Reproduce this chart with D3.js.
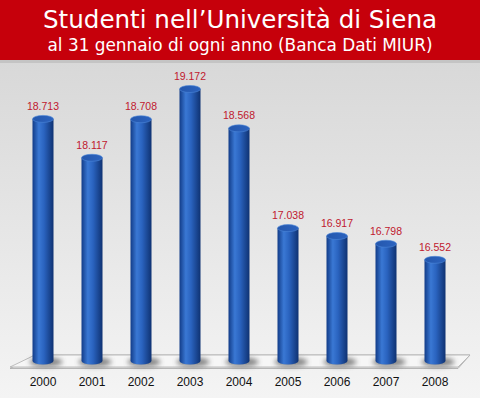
<!DOCTYPE html>
<html>
<head>
<meta charset="utf-8">
<script src="https://cdn.jsdelivr.net/npm/d3@7"></script>
<style>
  body { margin: 0; padding: 0; }
  svg { display: block; }
</style>
</head>
<body>
<svg id="chart" width="480" height="398"></svg>
<script>
// Data
var years = ["2000", "2001", "2002", "2003", "2004", "2005", "2006", "2007", "2008"];
var students = [18713, 18117, 18708, 19172, 18568, 17038, 16917, 16798, 16552];
var titleLines = ["Studenti nell\u2019Università di Siena", "al 31 gennaio di ogni anno (Banca Dati MIUR)"];

var W = 480, H = 398;
var BAR_W = 21, RY = 3.5;

var svg = d3.select("#chart");
var defs = svg.append("defs");

// background gradient
var bg = defs.append("linearGradient").attr("id", "bg")
  .attr("x1", 0).attr("y1", 0).attr("x2", 0).attr("y2", 1);
bg.append("stop").attr("offset", "0%").attr("stop-color", "#d3d3d3");
bg.append("stop").attr("offset", "100%").attr("stop-color", "#f4f4f4");

// cylinder body
var cyl = defs.append("linearGradient").attr("id", "cyl")
  .attr("x1", 0).attr("y1", 0).attr("x2", 1).attr("y2", 0);
cyl.append("stop").attr("offset", "0%").attr("stop-color", "#123c88");
cyl.append("stop").attr("offset", "30%").attr("stop-color", "#3a78d4");
cyl.append("stop").attr("offset", "55%").attr("stop-color", "#2a63bf");
cyl.append("stop").attr("offset", "100%").attr("stop-color", "#0f3272");

var topGrad = defs.append("linearGradient").attr("id", "cyltop")
  .attr("x1", 0).attr("y1", 0).attr("x2", 1).attr("y2", 0);
topGrad.append("stop").attr("offset", "0%").attr("stop-color", "#2457ad");
topGrad.append("stop").attr("offset", "100%").attr("stop-color", "#2c63bf");

defs.append("filter").attr("id", "blur")
  .attr("x", "-50%").attr("y", "-100%").attr("width", "200%").attr("height", "300%")
  .append("feGaussianBlur").attr("stdDeviation", 2.5);

svg.append("rect").attr("width", W).attr("height", H).attr("fill", "url(#bg)");

// header
svg.append("rect").attr("x", 0).attr("y", 0).attr("width", W).attr("height", 60).attr("fill", "#c6000b");
svg.append("rect").attr("x", 0).attr("y", 60).attr("width", W).attr("height", 3).attr("fill", "#c4c4c4");

svg.append("text")
  .attr("x", 240).attr("y", 28)
  .attr("text-anchor", "middle")
  .style("font-family", "DejaVu Sans Condensed")
  .style("font-size", "24px")
  .attr("fill", "#ffffff")
  .attr("textLength", 394).attr("lengthAdjust", "spacingAndGlyphs")
  .text(titleLines[0]);
svg.append("text")
  .attr("x", 240).attr("y", 51)
  .attr("text-anchor", "middle")
  .style("font-family", "DejaVu Sans Condensed")
  .style("font-size", "17px")
  .attr("fill", "#ffffff")
  .attr("textLength", 385).attr("lengthAdjust", "spacingAndGlyphs")
  .text(titleLines[1]);

// scales
var x = d3.scalePoint().domain(years).range([43, 435]);
var y = d3.scaleLinear().domain([15000, 20000]).range([361, 35]);

var it = d3.formatLocale({ decimal: ",", thousands: ".", grouping: [3], currency: ["€", ""] });
var fmt = it.format(",");

// floor
var floorY0 = 355, floorY1 = 367;
svg.append("path")
  .attr("d", "M10," + (floorY1 + 1.5) + "L458," + (floorY1 + 1.5) + "L470," + floorY0 + "L35," + floorY0 + "Z")
  .attr("fill", "#e2e2e2").attr("stroke", "#a8a8a8").attr("stroke-width", 0.8);
svg.append("path")
  .attr("d", "M10," + floorY1 + "L458," + floorY1 + "L470," + floorY0 + "L35," + floorY0 + "Z")
  .attr("fill", "#f6f6f6").attr("stroke", "#b0b0b0").attr("stroke-width", 0.8);

var data = years.map(function(d, i) { return { year: d, value: students[i] }; });

// shadows under the bars
svg.append("g").selectAll("ellipse")
  .data(data).enter().append("ellipse")
  .attr("cx", function(d) { return x(d.year) + 3; })
  .attr("cy", y(15000) + 1)
  .attr("rx", BAR_W / 2 + 6)
  .attr("ry", 4.5)
  .attr("fill", "#555")
  .attr("opacity", 0.7)
  .attr("filter", "url(#blur)");

// cylinders
var bars = svg.append("g").selectAll("g")
  .data(data).enter().append("g");

bars.append("path")
  .attr("d", function(d) {
    var cx = x(d.year), l = cx - BAR_W / 2, r = cx + BAR_W / 2;
    var yt = y(d.value), yb = y(15000);
    return "M" + l + "," + yt + "L" + l + "," + yb +
      "A" + (BAR_W / 2) + "," + RY + " 0 0 0 " + r + "," + yb +
      "L" + r + "," + yt + "Z";
  })
  .attr("fill", "url(#cyl)");

bars.append("ellipse")
  .attr("cx", function(d) { return x(d.year); })
  .attr("cy", function(d) { return y(d.value); })
  .attr("rx", BAR_W / 2)
  .attr("ry", RY)
  .attr("fill", "url(#cyltop)")
  .attr("stroke", "#4b86d8")
  .attr("stroke-width", 0.6);

// value labels
bars.append("text")
  .attr("x", function(d) { return x(d.year); })
  .attr("y", function(d) { return y(d.value) - 9; })
  .attr("text-anchor", "middle")
  .style("font-family", "Liberation Sans")
  .style("font-size", "10.5px")
  .attr("fill", "#c0182e")
  .text(function(d) { return fmt(d.value); });

// year labels
svg.append("g").selectAll("text")
  .data(years).enter().append("text")
  .attr("x", function(d) { return x(d); })
  .attr("y", 386)
  .attr("text-anchor", "middle")
  .style("font-family", "Liberation Sans")
  .style("font-size", "12px")
  .attr("fill", "#111")
  .text(function(d) { return d; });
</script>
</body>
</html>
